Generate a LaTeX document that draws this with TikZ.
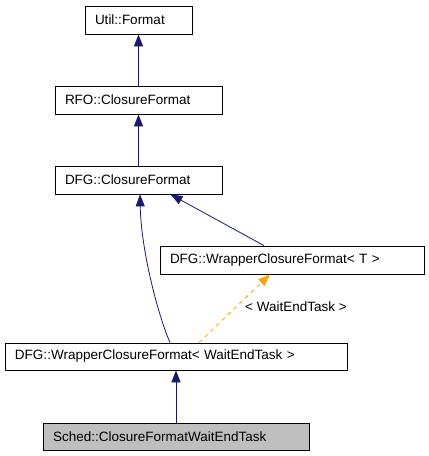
\documentclass[tikz,border=0pt]{standalone}
\usepackage{fontspec}
\setmainfont{Liberation Sans}
\usetikzlibrary{arrows.meta, positioning, calc}
\definecolor{edgeblue}{HTML}{191970}
\definecolor{tmplorange}{HTML}{FFA500}
\definecolor{leafgray}{HTML}{BFBFBF}

\begin{document}
\begin{tikzpicture}[
        x=1pt, y=-1pt,
        classbox/.style={
            rectangle, draw=black, line width=0.8pt, fill=white,
            text width=#1, align=left, inner xsep=10pt, inner ysep=0pt,
            minimum height=28pt, font=\fontsize{13.5}{16}\selectfont
        },
        current/.style={
            classbox=#1, fill=leafgray, minimum height=27pt
        },
        inherit/.style={
            line width=0.8pt, draw=edgeblue,
            -{Triangle[length=12pt, width=9pt, fill=edgeblue]}
        },
        instance/.style={
            line width=0.8pt, draw=tmplorange, dash pattern=on 4pt off 4pt,
            -{Triangle[length=12pt, width=9pt, fill=tmplorange]}
        },
        tlabel/.style={
            font=\fontsize{13.5}{16}\selectfont, inner sep=1pt
        }
    ]
        \useasboundingbox (0,0) rectangle (429,456);

        % ----------------------------------------------------
        % Base classes
        % ----------------------------------------------------
        \node[classbox=87pt] (util) at (138.5, 20) {Util::Format};
        \node[classbox=147pt] (rfo) at (138.5, 100) {RFO::ClosureFormat};
        \node[classbox=147pt] (dfgcf) at (138.5, 180) {DFG::ClosureFormat};

        % ----------------------------------------------------
        % Template and its instance
        % ----------------------------------------------------
        \node[classbox=244pt] (wrapT) at (292, 260) {DFG::WrapperClosureFormat< T >};
        \node[classbox=322pt, minimum height=27pt] (wrapW) at (176, 356.5) {DFG::WrapperClosureFormat< WaitEndTask >};
        \node[tlabel] (tlab) at (296, 307) {< WaitEndTask >};

        % ----------------------------------------------------
        % Documented class
        % ----------------------------------------------------
        \node[current=246pt] (sched) at (176, 436.5) {Sched::ClosureFormatWaitEndTask};

        % Inheritance edges
        \draw[inherit] (rfo.north) -- (util.south);
        \draw[inherit] (dfgcf.north) -- (rfo.south);
        \draw[inherit] ([xshift=-6pt]wrapW.north) .. controls (158, 315) and (141, 250) .. ([xshift=1.5pt]dfgcf.south);
        \draw[inherit] ([xshift=-28pt]wrapT.north) -- ([xshift=32pt]dfgcf.south);
        \draw[instance] ([xshift=23pt]wrapW.north) -- ([xshift=-22pt]wrapT.south);
        \draw[inherit] (sched.north) -- (wrapW.south);

    \end{tikzpicture}
\end{document}
